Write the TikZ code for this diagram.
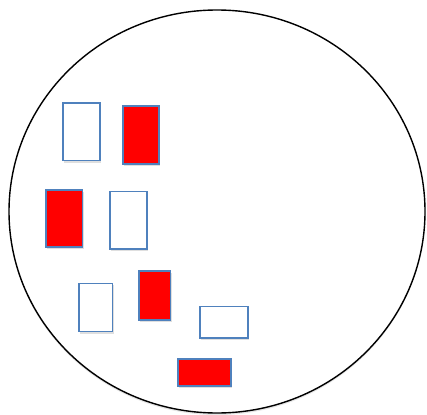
\documentclass[tikz,border=0pt]{standalone}
\usepackage{tikz}
\usepackage{xcolor}
\usetikzlibrary{shadows}

\definecolor{boxblue}{RGB}{79,129,189}

\begin{document}
\begin{tikzpicture} [x=1pt,y=-1pt]
  \tikzstyle{every node}=[rectangle,inner sep=0pt,draw=boxblue,line width=1.6pt,
    drop shadow={opacity=0.25,shadow xshift=1pt,shadow yshift=-2pt}]
  \tikzstyle{emptybox}=[fill=white]
  \tikzstyle{fullbox}=[fill=red]
  \useasboundingbox (0,0) rectangle (427,414);

  \draw[line width=1.4pt,drop shadow={opacity=0.2,shadow xshift=0pt,shadow yshift=-2pt},fill=white]
    (217,211.5) ellipse [x radius=208, y radius=201.5];

  \node[emptybox,minimum width=36.8pt,minimum height=57.4pt] (A) at (81.5,131.8) {};
  \node[fullbox, minimum width=36.1pt,minimum height=57.8pt] (B) at (141.2,135) {};
  \node[fullbox, minimum width=36.7pt,minimum height=57.4pt] (C) at (64.2,218.5) {};
  \node[emptybox,minimum width=37.1pt,minimum height=57.7pt] (D) at (128.7,220.3) {};
  \node[emptybox,minimum width=33.7pt,minimum height=48.1pt] (E) at (95.7,307.5) {};
  \node[fullbox, minimum width=31.7pt,minimum height=49.4pt] (F) at (154.7,295.5) {};
  \node[emptybox,minimum width=48.1pt,minimum height=31.7pt] (G) at (224.2,322.3) {};
  \node[fullbox, minimum width=52.8pt,minimum height=26.8pt] (H) at (204.5,372.5) {};
\end{tikzpicture}
\end{document}
